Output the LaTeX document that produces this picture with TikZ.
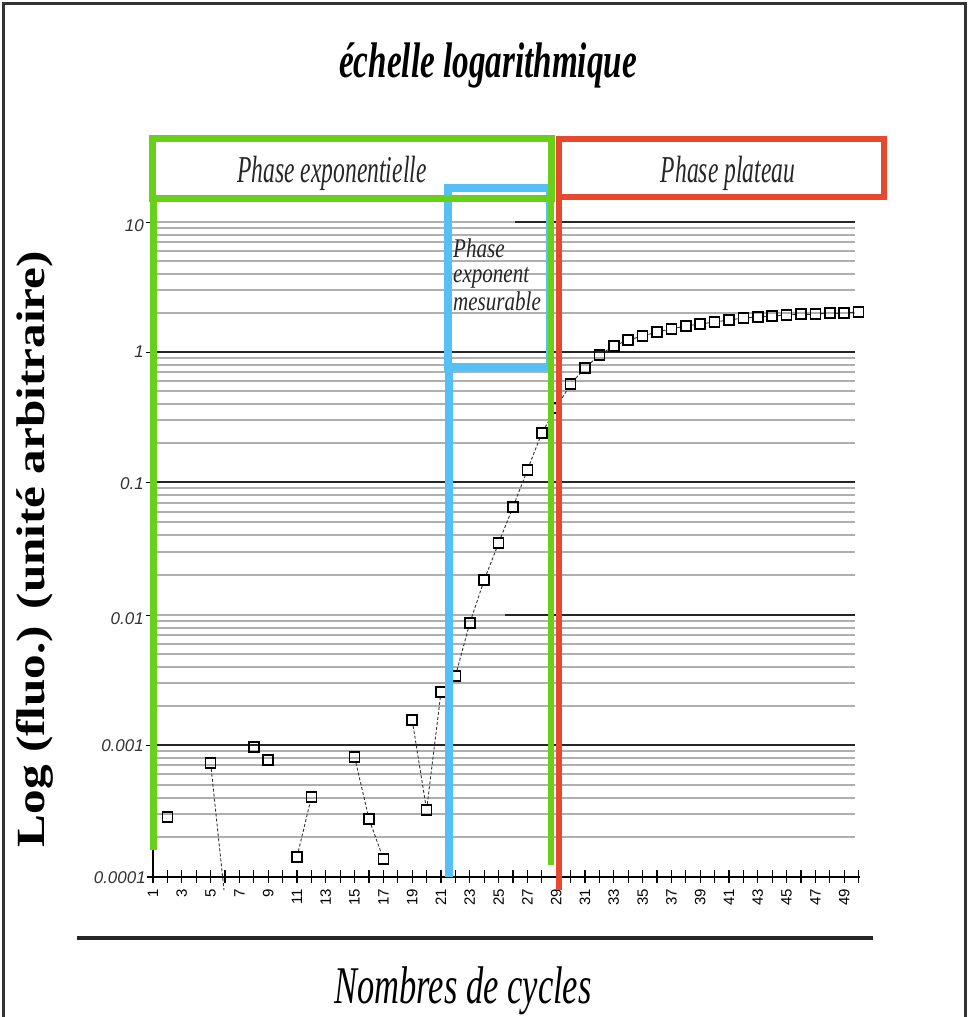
\documentclass[tikz,border=0pt]{standalone}
\usepackage{graphicx}
\usepackage{fontspec}
\setmainfont{Liberation Serif}
\setsansfont{Liberation Sans}
\definecolor{pgreen}{RGB}{104,208,24}
\definecolor{pred}{RGB}{232,72,48}
\definecolor{pblue}{RGB}{84,192,245}
\definecolor{gridgray}{RGB}{175,175,175}
\tikzset{
  minorline/.style={gridgray,line width=2},
  majorline/.style={black!85,line width=2.2},
  datapt/.style={draw=black,rectangle,minimum size=10pt,inner sep=0pt,line width=1.6pt},
  conn/.style={black!80,line width=0.9pt,dash pattern=on 3pt off 2pt},
  ytl/.style={anchor=east,font=\fontsize{17}{17}\sffamily\itshape,text=black!80,inner sep=0pt},
  xtl/.style={rotate=90,anchor=east,font=\fontsize{15}{15}\sffamily,inner sep=0pt},
  condensed/.style={xscale=0.62,inner sep=0pt},
  bluetext/.style={xscale=0.78,inner sep=0pt,anchor=base west,font=\fontsize{27}{27}\selectfont\itshape,text=black!85},
}
\newcommand{\cyc}[1]{153+(#1-1)*14.4}
\begin{document}
\begin{tikzpicture}[x=1pt,y=-1pt]
\useasboundingbox (0,0) rectangle (969,1017);
% frame
\draw[line width=3pt,black!80] (3,1017) -- (3,3) -- (965,3) -- (965,1017);
% minor grid
\foreach \T/\B in {222/352,352/482,482/615,615/745,745/877}{
  \foreach \k in {2,...,9}{
    \draw[minorline] (157,{\B-(\B-\T)*log10(\k)}) -- (855,{\B-(\B-\T)*log10(\k)});
  }
}
% partial decade lines
\draw[minorline] (157,222) -- (515,222);
\draw[majorline] (515,222) -- (855,222);
\draw[minorline] (157,615) -- (505,615);
\draw[majorline] (505,615) -- (855,615);
\foreach \yy in {352,482,745}{ \draw[majorline] (157,\yy) -- (855,\yy); }
% axes
\draw[black,line width=1.6pt] (153,215) -- (153,877);
\draw[black,line width=2.6pt] (147,877) -- (860,877);
\foreach \c in {1,...,50}{ \draw[black,line width=1.3pt] ({\cyc{\c}},870) -- ({\cyc{\c}},883); }
\foreach \yy in {222,352,482,615,745}{ \draw[black,line width=1pt] (146,\yy) -- (153,\yy); }
% tick labels
\node[ytl] (y10) at (144,226) {10};
\node[ytl] (y1) at (144,352) {1};
\node[ytl] (y01) at (144,484) {0.1};
\node[ytl] (y001) at (144,619) {0.01};
\node[ytl] (y0001) at (144,746) {0.001};
\node[ytl] (y00001) at (146,878) {0.0001};
\foreach \c in {1,3,...,49}{ \node[xtl] (xl\c) at ({\cyc{\c}},889) {\c}; }
% data points
\foreach \c/\v in {2/817,5/763,8/747,9/760,11/857,12/797,15/757,16/819,17/859,19/720,20/810,21/692,22/676,23/623,24/580,25/543,26/507,27/470,28/433,29/408,30/384,31/368,32/355,33/346,34/340,35/336,36/332,37/329,38/326,39/324,40/322,41/320,42/318,43/317,44/316,45/315,46/314,47/314,48/313,49/313,50/312}{
  \node[datapt] (p\c) at ({\cyc{\c}},\v) {};
}
\coordinate (p6) at (224,890);
\draw[conn] (p5) -- (p6);
\draw[conn] (p11) -- (p12);
\draw[conn] (p15) -- (p16);
\draw[conn] (p16) -- (p17);
\foreach \a/\b in {19/20,20/21,21/22,22/23,23/24,24/25,25/26,26/27,27/28,28/29,29/30,30/31,31/32,32/33,33/34,34/35,35/36,36/37,37/38,38/39,39/40,40/41,41/42,42/43,43/44,44/45,45/46,46/47,47/48,48/49,49/50}{
  \draw[conn] (p\a) -- (p\b);
}
% phase boxes
\draw[pblue,line width=8pt] (448,188) rectangle (550,367);
\draw[pblue,line width=8pt] (449,367) -- (449,877);
\draw[pgreen,line width=7pt] (152,138) rectangle (551,198);
\draw[pgreen,line width=7pt] (153,198) -- (153,850);
\draw[pgreen,line width=6pt] (551,198) -- (551,865);
\draw[pred,line width=6pt] (559,139) rectangle (884,197);
\draw[pred,line width=6pt] (559,197) -- (559,890);
% texts
\node[condensed,xscale=1.07,anchor=base,font=\fontsize{50}{56}\selectfont\bfseries\itshape] (title) at (488,77) {échelle logarithmique};
\node[condensed,anchor=base,font=\fontsize{38}{40}\selectfont\itshape,text=black!85] (pexp) at (332,182) {Phase exponentielle};
\node[condensed,anchor=base,font=\fontsize{38}{40}\selectfont\itshape,text=black!85] (pplat) at (728,182) {Phase plateau};
\node[bluetext] (pm1) at (453,257) {Phase};
\node[bluetext] (pm2) at (453,282) {exponent};
\node[bluetext] (pm3) at (453,310) {mesurable};
\node[rotate=90,inner sep=0pt,font=\fontsize{40}{40}\selectfont\bfseries] (ylab) at (35,549) {\scalebox{1.23}[1]{Log (fluo.) (unité arbitraire)}};
\draw[black!85,line width=4pt] (77,937.5) -- (873,937.5);
\node[condensed,xscale=1.05,anchor=base,font=\fontsize{53}{56}\selectfont\itshape] (xlab) at (463,1003) {Nombres de cycles};
\end{tikzpicture}
\end{document}
